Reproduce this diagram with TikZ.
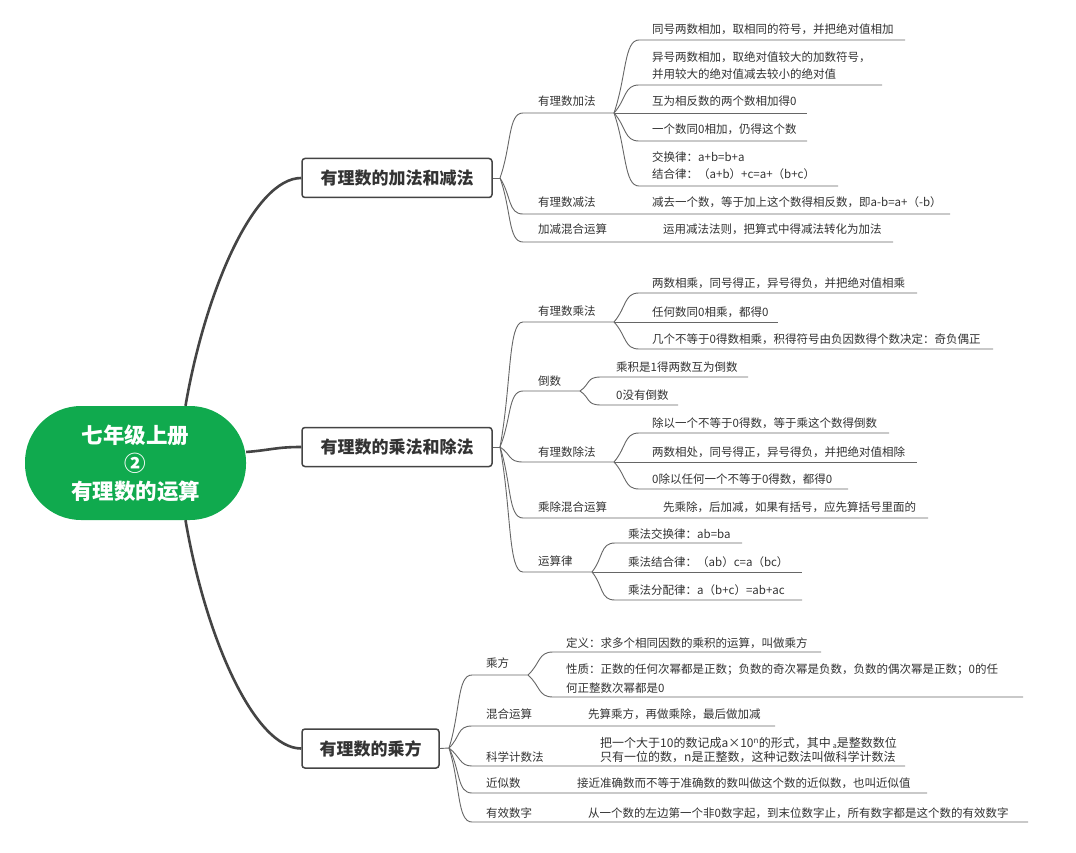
\documentclass[tikz,border=0pt]{standalone}
\usepackage{fontspec}
\setmainfont{Noto Sans CJK SC}
\usetikzlibrary{calc}
\definecolor{rootgreen}{HTML}{10AA4E}
\definecolor{txt}{HTML}{333333}
\definecolor{lncol}{HTML}{666666}
\definecolor{thickcol}{HTML}{444444}
\newcommand\cv[3]{\draw[ln] (#1) .. controls ($(#1)!.5!(#2)$) and +(-15,0) .. (#2) -- (#3);}
\begin{document}
\begin{tikzpicture}[x=1pt,y=-1pt,
  ln/.style={draw=lncol, line width=0.9pt},
  rootline/.style={draw=thickcol, line width=2.6pt},
  rootnode/.style={fill=rootgreen, rounded corners=56pt, minimum width=221pt, minimum height=114pt, inner sep=0pt, text=white, align=center, font=\bfseries\fontsize{21.5}{28}\selectfont},
  box/.style={draw=thickcol, line width=1.5pt, rounded corners=3pt, fill=white, minimum height=39pt, inner sep=0pt, text=txt, font=\bfseries\fontsize{17}{20}\selectfont},
  tx/.style={anchor=west, inner sep=0pt, text=txt, align=left, font=\fontsize{11.5}{17}\selectfont}]
\useasboundingbox (0,0) rectangle (1076,853);
\fill[white] (0,0) rectangle (1076,853);

% root and main boxes
\node[rootnode] (root) at (135.5,463) {七年级上册\\②\\有理数的运算};
\node[box, minimum width=190pt] (b1) at (397,178) {有理数的加法和减法};
\node[box, minimum width=190pt] (b2) at (397,447) {有理数的乘法和除法};
\node[box, minimum width=137pt] (b3) at (370.5,748.5) {有理数的乘方};

\draw[rootline] ([xshift=50pt]root.north) .. controls +(20,-116) and +(-47,0) .. (b1.west);
\draw[rootline] ([xshift=50pt]root.south) .. controls +(20,117) and +(-47,0) .. (b3.west);
\draw[rootline] ([yshift=11pt]root.east) .. controls +(25,-2) and +(-25,0) .. (b2.west);

% ---------- box 1 ----------
\coordinate (s1) at (500,178);
\draw[ln] (b1.east) -- (s1);
\coordinate (a1s) at (523,113); \coordinate (a1b) at (614,113);
\coordinate (a2s) at (523,214); \coordinate (a2e) at (950,214);
\coordinate (a3s) at (523,242); \coordinate (a3e) at (893,242);
\cv{s1}{a1s}{a1b}
\cv{s1}{a2s}{a2e}
\cv{s1}{a3s}{a3e}
\node[tx] (a1) at (538,101) {有理数加法};
\node[tx] (a2) at (538,202) {有理数减法};
\node[tx] (a3) at (538,229) {加减混合运算};
\node[tx] (a2c) at (652,202) {减去一个数，等于加上这个数得相反数，即a-b=a+（-b）};
\node[tx] (a3c) at (663,229) {运用减法法则，把算式中得减法转化为加法};

\coordinate (c11s) at (639,40);  \coordinate (c11e) at (905,40);
\coordinate (c12s) at (639,85);  \coordinate (c12e) at (882,85);
\coordinate (c13e) at (807,113);
\coordinate (c14s) at (639,141); \coordinate (c14e) at (807,141);
\coordinate (c15s) at (639,186); \coordinate (c15e) at (838,186);
\cv{a1b}{c11s}{c11e}
\cv{a1b}{c12s}{c12e}
\draw[ln] (a1b) -- (c13e);
\cv{a1b}{c14s}{c14e}
\cv{a1b}{c15s}{c15e}
\node[tx] (c11) at (652,29) {同号两数相加，取相同的符号，并把绝对值相加};
\node[tx] (c12) at (652,65.5) {异号两数相加，取绝对值较大的加数符号，\\并用较大的绝对值减去较小的绝对值};
\node[tx] (c13) at (652,101) {互为相反数的两个数相加得0};
\node[tx] (c14) at (652,129) {一个数同0相加，仍得这个数};
\node[tx] (c15) at (652,165.5) {交换律：a+b=b+a\\结合律：（a+b）+c=a+（b+c）};

% ---------- box 2 ----------
\coordinate (s2) at (500,447);
\draw[ln] (b2.east) -- (s2);
\coordinate (m1s) at (523,322); \coordinate (m1b) at (614,322);
\coordinate (m2s) at (523,391); \coordinate (m2b) at (580,391);
\coordinate (m3s) at (523,462); \coordinate (m3b) at (614,462);
\coordinate (m4s) at (523,518); \coordinate (m4e) at (928,518);
\coordinate (m5s) at (523,572); \coordinate (m5b) at (592,572);
\cv{s2}{m1s}{m1b}
\cv{s2}{m2s}{m2b}
\cv{s2}{m3s}{m3b}
\cv{s2}{m4s}{m4e}
\cv{s2}{m5s}{m5b}
\node[tx] (m1) at (538,311) {有理数乘法};
\node[tx] (m2) at (538,381) {倒数};
\node[tx] (m3) at (538,452) {有理数除法};
\node[tx] (m4) at (538,507) {乘除混合运算};
\node[tx] (m5) at (538,561) {运算律};
\node[tx] (m4c) at (663,507) {先乘除，后加减，如果有括号，应先算括号里面的};

\coordinate (m11s) at (639,293); \coordinate (m11e) at (917,293);
\coordinate (m12e) at (778,322);
\coordinate (m13s) at (639,349); \coordinate (m13e) at (993,349);
\cv{m1b}{m11s}{m11e}
\draw[ln] (m1b) -- (m12e);
\cv{m1b}{m13s}{m13e}
\node[tx] (m11) at (652,283) {两数相乘，同号得正，异号得负，并把绝对值相乘};
\node[tx] (m12) at (652,312) {任何数同0相乘，都得0};
\node[tx] (m13) at (652,339) {几个不等于0得数相乘，积得符号由负因数得个数决定：奇负偶正};

\coordinate (m21s) at (601,377); \coordinate (m21e) at (748,377);
\coordinate (m22s) at (601,405); \coordinate (m22e) at (678,405);
\cv{m2b}{m21s}{m21e}
\cv{m2b}{m22s}{m22e}
\node[tx] (m21) at (616,367) {乘积是1得两数互为倒数};
\node[tx] (m22) at (616,395) {0没有倒数};

\coordinate (m31s) at (639,433); \coordinate (m31e) at (889,433);
\coordinate (m32e) at (917,462);
\coordinate (m33s) at (639,489); \coordinate (m33e) at (848,489);
\cv{m3b}{m31s}{m31e}
\draw[ln] (m3b) -- (m32e);
\cv{m3b}{m33s}{m33e}
\node[tx] (m31) at (652,423) {除以一个不等于0得数，等于乘这个数得倒数};
\node[tx] (m32) at (652,452) {两数相处，同号得正，异号得负，并把绝对值相除};
\node[tx] (m33) at (652,479) {0除以任何一个不等于0得数，都得0};

\coordinate (m51s) at (615,543); \coordinate (m51e) at (742,543);
\coordinate (m52e) at (802,572);
\coordinate (m53s) at (615,600); \coordinate (m53e) at (802,600);
\cv{m5b}{m51s}{m51e}
\draw[ln] (m5b) -- (m52e);
\cv{m5b}{m53s}{m53e}
\node[tx] (m51) at (628,534) {乘法交换律：ab=ba};
\node[tx] (m52) at (628,562) {乘法结合律：（ab）c=a（bc）};
\node[tx] (m53) at (628,590) {乘法分配律：a（b+c）=ab+ac};

% ---------- box 3 ----------
\coordinate (s3) at (449,748);
\draw[ln] (b3.east) -- (s3);
\coordinate (p1s) at (472,675); \coordinate (p1b) at (528,675);
\coordinate (p2s) at (472,726); \coordinate (p2e) at (775,726);
\coordinate (p3s) at (472,766); \coordinate (p3e) at (905,766);
\coordinate (p4s) at (472,793); \coordinate (p4e) at (927,793);
\coordinate (p5s) at (472,822); \coordinate (p5e) at (1028,822);
\cv{s3}{p1s}{p1b}
\cv{s3}{p2s}{p2e}
\draw[ln] (s3) .. controls ($(s3)!.5!(p3s)$) and +(-12,0) .. (p3s) -- (p3e);
\cv{s3}{p4s}{p4e}
\cv{s3}{p5s}{p5e}
\node[tx] (p1) at (486,663) {乘方};
\node[tx] (p2) at (486,714) {混合运算};
\node[tx] (p3) at (486,757) {科学计数法};
\node[tx] (p4) at (486,783) {近似数};
\node[tx] (p5) at (486,813) {有效数字};
\node[tx] (p2c) at (588,714) {先算乘方，再做乘除，最后做加减};
\node[tx, font=\fontsize{12}{14}\selectfont] (p3c) at (600,750) {把一个大于10的数记成a×10\textsuperscript{n}的形式，其中\,\raisebox{-1pt}{\scriptsize a}是整数数位\\只有一位的数，n是正整数，这种记数法叫做科学计数法};
\node[tx] (p4c) at (577,783) {接近准确数而不等于准确数的数叫做这个数的近似数，也叫近似值};
\node[tx] (p5c) at (588,813) {从一个数的左边第一个非0数字起，到末位数字止，所有数字都是这个数的有效数字};

\coordinate (p11s) at (553,652); \coordinate (p11e) at (821,652);
\coordinate (p12s) at (553,697); \coordinate (p12e) at (1023,697);
\cv{p1b}{p11s}{p11e}
\cv{p1b}{p12s}{p12e}
\node[tx] (p11) at (566,643) {定义：求多个相同因数的乘积的运算，叫做乘方};
\node[tx, font=\fontsize{11.5}{19}\selectfont] (p12) at (566,678.5) {性质：正数的任何次幂都是正数；负数的奇次幂是负数，负数的偶次幂是正数；0的任\\何正整数次幂都是0};
\end{tikzpicture}
\end{document}
